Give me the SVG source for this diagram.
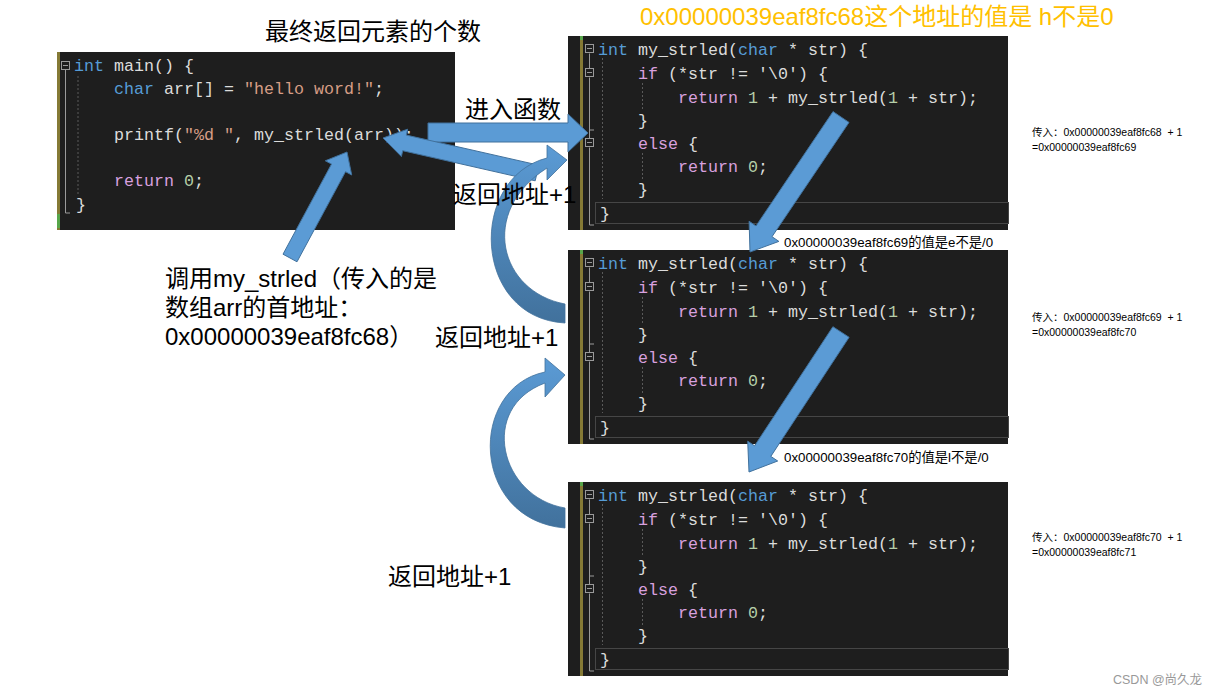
<svg xmlns="http://www.w3.org/2000/svg" xmlns:xlink="http://www.w3.org/1999/xlink" width="1217" height="696" viewBox="0 0 1217 696">
<style>
.code{font-family:"Liberation Mono","DejaVu Sans Mono",monospace;font-size:16.66px;fill:#DCDCDC;white-space:pre}
.kw{fill:#569CD6}.ctl{fill:#D8A0DF}.num{fill:#B5CEA8}.str{fill:#D69D85}
.lbl{font-family:"Liberation Sans","Noto Sans CJK SC",sans-serif;fill:#000;white-space:pre}
.big{font-size:24px}.sm{font-size:10.5px}.mid{font-size:13.3px}
.arr{fill:#5B9BD5;stroke:#41719C;stroke-width:1}
.carr{fill:url(#cg);stroke:#41719C;stroke-width:0.8}
.guide{stroke:#5A5A5A;stroke-width:1;stroke-dasharray:2 2;fill:none}
.tree{stroke:#9A9A9A;stroke-width:1;fill:none}
</style>
<defs>
<linearGradient id="cg" x1="0" y1="0" x2="0" y2="1">
<stop offset="0" stop-color="#5B9BD5"/><stop offset="1" stop-color="#41719C"/>
</linearGradient>
<g id="fnblock">
<rect x="568" y="0" width="440" height="194" fill="#1E1E1E"/>
<rect x="580" y="0" width="3" height="194" fill="#857A35"/>
<rect x="580" y="0" width="3" height="4" fill="#57A64A"/>
<rect x="595.5" y="166.5" width="413" height="21" fill="none" stroke="#464646"/>
<path class="tree" d="M589.5 17.5V32.5M589.5 41.5V94H594M589.5 94V102.5M589.5 111.5V189H594"/>
<rect x="585.5" y="8.5" width="8" height="8" class="tree"/><path class="tree" d="M587 12.5H592"/>
<rect x="585.5" y="32.5" width="8" height="8" class="tree"/><path class="tree" d="M587 36.5H592"/>
<rect x="585.5" y="102.5" width="8" height="8" class="tree"/><path class="tree" d="M587 106.5H592"/>
<path class="guide" d="M602.5 22V163M642.5 47V73M642.5 117V143"/>
<text class="code" x="598" y="18.5"><tspan class="kw">int</tspan> my_strled(<tspan class="kw">char</tspan> * str) {</text>
<text class="code" x="638" y="42.5"><tspan class="ctl">if</tspan> (*str != '\0') {</text>
<text class="code" x="678" y="66.5"><tspan class="ctl">return</tspan> <tspan class="num">1</tspan> + my_strled(<tspan class="num">1</tspan> + str);</text>
<text class="code" x="638" y="89.5">}</text>
<text class="code" x="638" y="112.5"><tspan class="ctl">else</tspan> {</text>
<text class="code" x="678" y="135.5"><tspan class="ctl">return</tspan> <tspan class="num">0</tspan>;</text>
<text class="code" x="638" y="158.5">}</text>
<text class="code" x="600" y="182.5">}</text>
</g>
</defs>

<g id="main-block">
<rect x="57" y="52" width="398" height="178" fill="#1E1E1E"/>
<rect x="57" y="52" width="3" height="178" fill="#857A35"/>
<rect x="57" y="214" width="3" height="14" fill="#57A64A"/>
<rect x="61.5" y="61.5" width="8" height="8" class="tree"/><path class="tree" d="M63 65.5H68M65.5 69.5V213H70"/>
<path class="guide" d="M78 76V196"/>
<text class="code" x="74" y="71"><tspan class="kw">int</tspan> main() {</text>
<text class="code" x="114" y="94"><tspan class="kw">char</tspan> arr[] = <tspan class="str">"hello word!"</tspan>;</text>
<text class="code" x="114" y="140">printf(<tspan class="str">"%d "</tspan>, my_strled(arr));</text>
<text class="code" x="114" y="186"><tspan class="ctl">return</tspan> <tspan class="num">0</tspan>;</text>
<text class="code" x="76" y="210">}</text>
</g>

<g id="call-1"><use xlink:href="#fnblock" href="#fnblock" transform="translate(0,36)"/></g>
<g id="call-2"><use xlink:href="#fnblock" href="#fnblock" transform="translate(0,250)"/></g>
<g id="call-3"><use xlink:href="#fnblock" href="#fnblock" transform="translate(0,482)"/></g>

<g id="connectors">
<polygon class="arr" points="283,254.2 331.5,164.1 325.3,160.8 347,152 351.7,175 345.5,171.7 297,261.8"/>
<polygon class="arr" points="428,123 568,123 568,114 588,133 568,152 568,142 428,142"/>
<polygon class="arr" points="538.8,165.2 406.3,135.1 407.6,129.2 383,138 401.4,156.6 402.7,150.7 535.2,180.8"/>
<path class="carr" d="M565,304 C500,292 478,212 547,168 L547,180 L567,160 L547,145 L547,158 C468,178 472,318 565,323 Z"/>
<path class="carr" d="M565,508 C500,497 478,408 545,383 L545,397 L565,375 L545,358 L545,372 C468,388 470,520 565,528 Z"/>
<polygon class="arr" points="849,122.4 772,236.7 778.9,241.4 750,252 749.1,221.2 756,225.9 833,111.6"/>
<polygon class="arr" points="849.1,337.3 770.8,456.4 777.7,461 749,472 747.7,441.2 754.6,445.8 832.9,326.7"/>
</g>

<g id="labels">
<text class="lbl big" x="265" y="40">最终返回元素的个数</text>
<text class="lbl big" x="640" y="25" style="fill:#FFC000">0x00000039eaf8fc68这个地址的值是 h不是0</text>
<text class="lbl big" x="465" y="118">进入函数</text>
<text class="lbl big" x="453" y="203">返回地址+1</text>
<text class="lbl big" x="435" y="346">返回地址+1</text>
<text class="lbl big" x="388" y="585">返回地址+1</text>
<text class="lbl big" x="165" y="287">调用my_strled（传入的是</text>
<text class="lbl big" x="165" y="316">数组arr的首地址：</text>
<text class="lbl big" x="165" y="345">0x00000039eaf8fc68）</text>
<text class="lbl sm" x="1032" y="136">传入：0x00000039eaf8fc68  + 1</text>
<text class="lbl sm" x="1032" y="151">=0x00000039eaf8fc69</text>
<text class="lbl sm" x="1032" y="321">传入：0x00000039eaf8fc69  + 1</text>
<text class="lbl sm" x="1032" y="336">=0x00000039eaf8fc70</text>
<text class="lbl sm" x="1032" y="541">传入：0x00000039eaf8fc70  + 1</text>
<text class="lbl sm" x="1032" y="556">=0x00000039eaf8fc71</text>
<text class="lbl mid" x="784" y="247">0x00000039eaf8fc69的值是e不是/0</text>
<text class="lbl mid" x="784" y="462">0x00000039eaf8fc70的值是l不是/0</text>
<text class="lbl" x="1113" y="684" style="font-size:12.5px;fill:#999999">CSDN @尚久龙</text>
</g>
</svg>
